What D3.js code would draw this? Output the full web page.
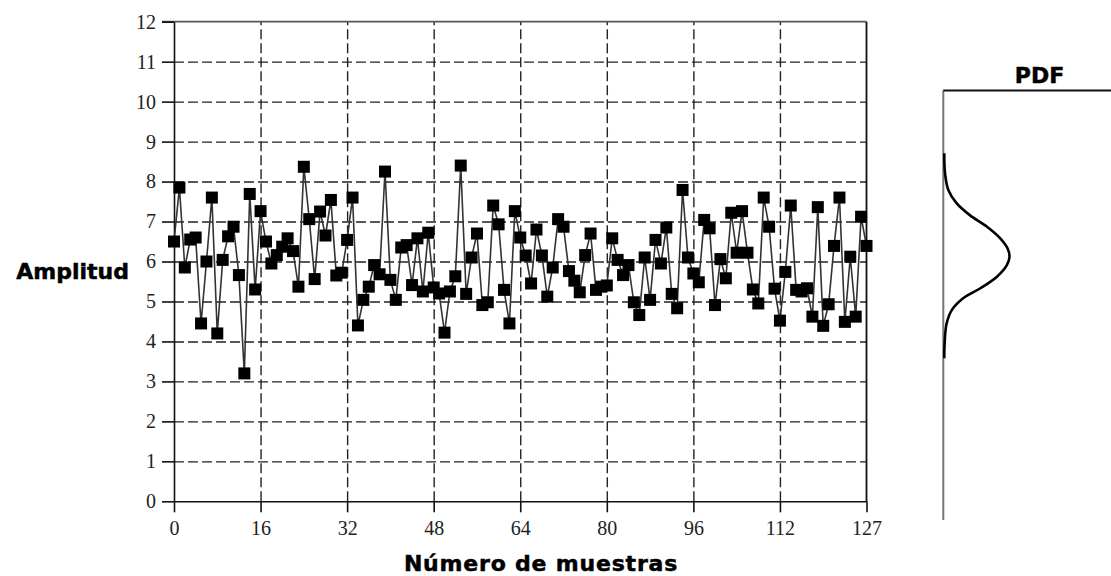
<!DOCTYPE html>
<html lang="es">
<head>
<meta charset="utf-8">
<title>Amplitud - Número de muestras</title>
<style>
  body { margin: 0; background: #fff; }
  svg { display: block; }
  .axis text { font-family: "Liberation Serif", "DejaVu Serif", serif; font-size: 20px; fill: #222; }
  .axis path, .axis line { stroke: #111; stroke-width: 1.6px; }
  .grid line { stroke: #222; stroke-width: 1.4px; stroke-dasharray: 10,4; }
  .grid path { display: none; }
  .lbl { font-family: "DejaVu Sans", sans-serif; font-weight: bold; font-size: 22px; fill: #000; stroke: #000; stroke-width: 0.5px; }
</style>
<script src="https://cdn.jsdelivr.net/npm/d3@7"></script>
</head>
<body>
<script>
var w = 1111, h = 576;

// amplitude of each sample (index = sample number)
var amplitud = [
  6.50, 7.85, 5.85, 6.55, 6.60, 4.45, 6.00, 7.60, 4.20, 6.04,
  6.63, 6.87, 5.66, 3.20, 7.69, 5.30, 7.26, 6.50, 5.95, 6.16,
  6.37, 6.58, 6.26, 5.37, 8.37, 7.06, 5.56, 7.25, 6.65, 7.54,
  5.65, 5.72, 6.54, 7.60, 4.40, 5.04, 5.37, 5.91, 5.68, 8.25,
  5.54, 5.04, 6.35, 6.41, 5.41, 6.58, 5.25, 6.72, 5.35, 5.20,
  4.22, 5.25, 5.63, 8.40, 5.19, 6.10, 6.70, 4.91, 4.98, 7.40,
  6.93, 5.29, 4.45, 7.26, 6.60, 6.15, 5.45, 6.80, 6.15, 5.12,
  5.85, 7.06, 6.87, 5.76, 5.52, 5.23, 6.16, 6.70, 5.29, 5.37,
  5.40, 6.58, 6.04, 5.66, 5.91, 4.98, 4.66, 6.10, 5.04, 6.54,
  5.95, 6.85, 5.19, 4.83, 7.79, 6.10, 5.70, 5.48, 7.04, 6.83,
  4.91, 6.06, 5.58, 7.22, 6.22, 7.26, 6.22, 5.30, 4.95, 7.60,
  6.87, 5.32, 4.52, 5.74, 7.40, 5.29, 5.25, 5.33, 4.62, 7.36,
  4.39, 4.93, 6.39, 7.60, 4.49, 6.12, 4.62, 7.12, 6.39
];

var yTicks = [0, 1, 2, 3, 4, 5, 6, 7, 8, 9, 10, 11, 12];
var yGrid = [1, 2, 3, 4, 5, 6, 7, 8, 9, 10, 11];
var xTicks = [0, 16, 32, 48, 64, 80, 96, 112, 128];
var xGrid = [16, 32, 48, 64, 80, 96, 112];
var xTickLabels = ["0", "16", "32", "48", "64", "80", "96", "112", "127"];

// PDF curve: amplitude and relative density
var pdfAmp = [8.71, 8.21, 7.79, 7.46, 7.16, 6.87, 6.58, 6.33, 6.12, 5.91, 5.62, 5.33, 5.08, 4.79, 4.45, 3.95, 3.58];
var pdfVal = [0.015, 0.026, 0.076, 0.20, 0.40, 0.66, 0.86, 0.97, 1.00, 0.96, 0.81, 0.56, 0.30, 0.13, 0.05, 0.02, 0.015];

var svg = d3.select("body").append("svg")
  .attr("width", w)
  .attr("height", h);

var x = d3.scaleLinear().domain([0, 128]).range([174, 866.5]);
var y = d3.scaleLinear().domain([0, 12]).range([501.3, 21.7]);

// grid
svg.append("g")
  .attr("class", "grid")
  .attr("transform", "translate(" + x(0) + ",0)")
  .call(d3.axisLeft(y).tickValues(yGrid).tickSize(-(x(128) - x(0))).tickFormat(""));

svg.append("g")
  .attr("class", "grid")
  .attr("transform", "translate(0," + y(0) + ")")
  .call(d3.axisBottom(x).tickValues(xGrid).tickSize(-(y(0) - y(12))).tickFormat(""));

// frame top + right
svg.append("line")
  .attr("x1", x(0) - 12).attr("x2", x(128))
  .attr("y1", y(12)).attr("y2", y(12))
  .attr("stroke", "#555").attr("stroke-width", 1.8);
svg.append("line")
  .attr("x1", x(128)).attr("x2", x(128))
  .attr("y1", y(12)).attr("y2", y(0))
  .attr("stroke", "#111").attr("stroke-width", 1.8);

// axes
svg.append("g")
  .attr("class", "axis")
  .attr("transform", "translate(" + x(0) + ",0)")
  .call(d3.axisLeft(y).tickValues(yTicks).tickSize(12).tickSizeOuter(0).tickPadding(6));

svg.append("g")
  .attr("class", "axis")
  .attr("transform", "translate(0," + y(0) + ")")
  .call(d3.axisBottom(x).tickValues(xTicks).tickSize(11).tickSizeOuter(0).tickPadding(9)
    .tickFormat(function(d, i) { return xTickLabels[i]; }));

// data line + square markers
var line = d3.line()
  .x(function(d, i) { return x(i); })
  .y(function(d) { return y(d); });

svg.append("path")
  .datum(amplitud)
  .attr("d", line)
  .attr("fill", "none")
  .attr("stroke", "#333")
  .attr("stroke-width", 1.6);

var sq = 12;
svg.selectAll(".pt")
  .data(amplitud)
  .enter().append("rect")
  .attr("class", "pt")
  .attr("x", function(d, i) { return x(i) - sq / 2; })
  .attr("y", function(d) { return y(d) - sq / 2; })
  .attr("width", sq)
  .attr("height", sq)
  .attr("fill", "#000");

// labels
svg.append("text")
  .attr("class", "lbl")
  .attr("x", 129).attr("y", 279)
  .attr("text-anchor", "end")
  .text("Amplitud");

svg.append("text")
  .attr("class", "lbl")
  .attr("x", 541).attr("y", 571)
  .attr("text-anchor", "middle")
  .attr("letter-spacing", "0.8px")
  .text("Número de muestras");

// PDF side panel
var px = d3.scaleLinear().domain([0, 1]).range([943.3, 1009.5]);

svg.append("line")
  .attr("x1", px(0)).attr("x2", px(0))
  .attr("y1", 90.5).attr("y2", 520)
  .attr("stroke", "#777").attr("stroke-width", 2);
svg.append("line")
  .attr("x1", px(0)).attr("x2", w)
  .attr("y1", 90.5).attr("y2", 90.5)
  .attr("stroke", "#111").attr("stroke-width", 2);

svg.append("text")
  .attr("class", "lbl")
  .attr("x", 1039.5).attr("y", 83)
  .attr("text-anchor", "middle")
  .text("PDF");

var pdfLine = d3.line()
  .x(function(d, i) { return px(pdfVal[i]); })
  .y(function(d) { return y(d); })
  .curve(d3.curveCatmullRom);

svg.append("path")
  .datum(pdfAmp)
  .attr("d", pdfLine)
  .attr("fill", "none")
  .attr("stroke", "#000")
  .attr("stroke-width", 2.6);
</script>
</body>
</html>
